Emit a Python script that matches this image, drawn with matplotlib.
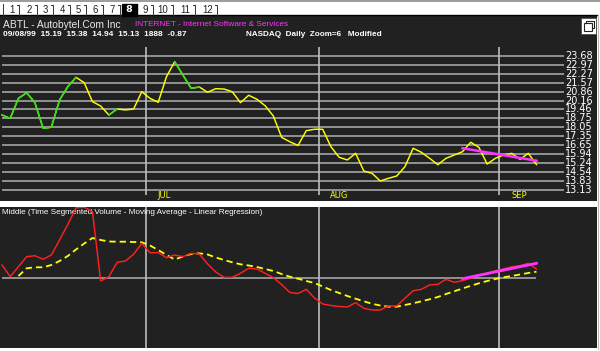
import numpy as np
import matplotlib
matplotlib.use("Agg")
import matplotlib.pyplot as plt
from matplotlib.patches import Rectangle

# ---------------- data ----------------
close = [19.02, 18.76, 20.33, 20.77, 19.99, 17.98, 18.06, 20.20, 21.25, 21.98,
         21.56, 20.07, 19.73, 19.02, 19.49, 19.42, 19.49, 20.85, 20.33, 20.02,
         22.03, 23.21, 22.16, 21.12, 21.22, 20.81, 21.09, 21.06, 20.85, 19.99,
         20.57, 20.26, 19.75, 18.94, 17.27, 16.92, 16.63, 17.79, 17.90, 17.90,
         16.53, 15.70, 15.49, 16.01, 14.62, 14.44, 13.84, 14.05, 14.23, 14.96,
         16.41, 16.09, 15.62, 15.12, 15.62, 15.88, 16.14, 16.88, 16.48, 15.17,
         15.62, 15.88, 16.01, 15.54, 16.01, 15.13]
green_segments = [(0, 9), (13, 14), (21, 24)]
price_reg_idx = [56, 65]
price_reg_val = [16.41, 15.43]

tsv = [12.7, 1.0, 11.0, 21.0, 22.0, 18.4, 22.7, 37.7, 53.2, 70.0,
       70.5, 66.0, -3.3, 1.0, 15.4, 16.7, 23.4, 34.4, 25.0, 25.0,
       20.0, 22.7, 21.0, 24.4, 23.7, 13.7, 5.7, 0.4, 0.4, 4.4,
       9.4, 8.7, 4.4, 0.0, -6.8, -14.8, -15.8, -11.6, -20.3, -26.3,
       -27.8, -28.8, -29.3, -25.0, -30.6, -32.3, -32.3, -28.3, -28.3, -20.6,
       -13.0, -11.6, -7.3, -6.6, -1.6, -4.6, -3.0, -0.6, 2.7, 4.4,
       7.0, 8.7, 11.0, 12.0, 14.4, 8.7]
tsv_ma = [np.nan, np.nan, 1.7, 9.4, 10.4, 10.4, 12.7, 16.7, 21.7, 28.2,
          34.2, 39.7, 37.7, 36.2, 36.0, 36.0, 35.7, 35.4, 32.2, 27.7,
          22.7, 18.2, 21.2, 23.7, 24.4, 23.2, 20.2, 17.7, 15.4, 13.4,
          12.2, 10.7, 8.7, 6.7, 3.7, 1.0, -1.0, -3.3, -5.3, -8.8,
          -12.3, -15.3, -18.3, -21.0, -23.6, -26.1, -27.8, -29.0, -29.0, -27.3,
          -25.6, -23.6, -21.6, -19.3, -16.3, -13.6, -10.8, -8.1, -5.6, -3.3,
          -1.3, 0.4, 1.7, 3.2, 4.7, 6.0]
tsv_reg_idx = [56, 65]
tsv_reg_val = [-1.0, 14.4]

price_ticks = [23.68, 22.97, 22.27, 21.57, 20.86, 20.16, 19.46, 18.75,
               18.05, 17.35, 16.65, 15.94, 15.24, 14.54, 13.83, 13.13]
month_bounds = [17.5, 38.5, 60.5]
month_labels = ["JUL", "AUG", "SEP"]
month_label_pos = [18.85, 39.9, 61.9]
tabs = ["1", "2", "3", "4", "5", "6", "7", "8", "9", "10", "11", "12"]
active_tab = "8"

# ---------------- layout ----------------
W, H = 600, 351
fig = plt.figure(figsize=(W / 100, H / 100), dpi=100, facecolor="white")
PX = 8.223      # pixels per bar
X0 = 2.0        # pixel x of bar 0
BG = "#212121"
GRID = "#b0b0b0"


def px_axes(x0, y0, x1, y1, **kw):
    return fig.add_axes([x0 / W, 1 - y1 / H, (x1 - x0) / W, (y1 - y0) / H], **kw)


def xlim_for(ax, x0p, x1p):
    ax.set_xlim((x0p - X0) / PX, (x1p - X0) / PX)


# upper price panel
ax = px_axes(0, 16, 597, 201)
ax.set_facecolor(BG)
xlim_for(ax, 0, 597)
p_per_px = 0.7033 / 8.953
ytop = 23.68 + (55.7 - 16) * p_per_px
ybot = 23.68 - (201 - 55.7) * p_per_px
ax.set_ylim(ybot, ytop)
for s in ax.spines.values():
    s.set_visible(False)
ax.set_xticks([])
ax.set_yticks([])

x_grid_end = (564 - X0) / PX
ax.hlines(price_ticks, 0, x_grid_end, color=GRID, lw=1.1, zorder=1)
for v in price_ticks:
    ax.text((565 - X0) / PX, v, f"{v:.2f}", color="white", fontsize=7,
            ha="left", va="center", family="DejaVu Sans")
y_v0 = 23.68 - (195 - 55.7) * p_per_px
y_v1 = 23.68 + (55.7 - 47) * p_per_px
ax.vlines(month_bounds, y_v0, y_v1, color="#bcbcbc", lw=1.2, zorder=1)
for lab, pos in zip(month_labels, month_label_pos):
    ax.text(pos, 23.68 - (195.5 - 55.7) * p_per_px, lab, color="#ffff00",
            fontsize=6, ha="left", va="center", family="DejaVu Sans")

xi = np.arange(len(close))
ax.plot(xi, close, color="#ffff00", lw=1.05, zorder=3)
for a, b in green_segments:
    ax.plot(xi[a:b + 1], close[a:b + 1], color="#22e022", lw=1.05, zorder=4)
ax.plot(price_reg_idx, price_reg_val, color="#ff33ff", lw=1.8, zorder=5)

# lower indicator panel
ax2 = px_axes(0, 206.5, 597, 348)
ax2.set_facecolor(BG)
xlim_for(ax2, 0, 597)
ax2.set_ylim(277.7 - 348, 277.7 - 206.5)
for s in ax2.spines.values():
    s.set_visible(False)
ax2.set_xticks([])
ax2.set_yticks([])
ax2.hlines(0, 0, len(tsv) - 1, color=GRID, lw=1.1, zorder=1)
for mb in month_bounds:
    ax2.axvline(mb, color="#bcbcbc", lw=1.2, zorder=1)
ax2.plot(xi, tsv_ma, color="#ffff00", lw=1.3, ls=(0, (3.5, 2.2)), zorder=3)
ax2.plot(xi, tsv, color="#ff2020", lw=1.05, zorder=4)
ax2.plot(tsv_reg_idx, tsv_reg_val, color="#ff33ff", lw=2.0, zorder=5)
ax2.text(2 / 597, 0.96, "Middle (Time Segmented Volume - Moving Average - Linear Regression)",
         transform=ax2.transAxes, color="white", fontsize=5.85, ha="left", va="center",
         family="Liberation Sans")

# overlay for window chrome and header text (pixel coordinates)
ov = fig.add_axes([0, 0, 1, 1], facecolor="none")
ov.set_xlim(0, W)
ov.set_ylim(H, 0)
ov.axis("off")
ov.plot([0, W], [0.6, 0.6], color="#8a8a8a", lw=1.2)
ov.plot([0, 597], [15.3, 15.3], color="#000000", lw=1.0)
ov.plot([597.5, 597.5], [15, 349], color="#bdbdbd", lw=0.8)

tab_x = [11.7, 29, 45.3, 62, 78.3, 95, 112, 129, 145.7, 163, 185, 207.3]
ov.plot([2.5, 2.5], [3.5, 15], color="#333333", lw=0.7)
for lab, tx in zip(tabs, tab_x):
    if lab == active_tab:
        ov.add_patch(Rectangle((122, 4), 14.5, 11.5, facecolor="black", edgecolor="black"))
        ov.text(tx, 10, lab, color="white", fontsize=6.8, fontweight="bold",
                ha="center", va="center", family="DejaVu Sans")
    else:
        ov.text(tx, 10, lab, color="#202020", fontsize=6.9, ha="center", va="center",
                family="Liberation Sans")
        sx = tx + (7.5 if len(lab) == 1 else 10)
        ov.plot([sx - 2, sx, sx], [4.5, 4.5, 14.5], color="#333333", lw=0.7)

ov.text(3, 24.5, "ABTL - Autobytel.Com Inc", color="#e8e8e8", fontsize=7.4,
        ha="left", va="center", family="Liberation Sans")
ov.text(135, 24.5, "INTERNET - Internet Software & Services", color="#ff33ff",
        fontsize=5.95, ha="left", va="center", family="Liberation Sans")
ov.text(3, 35, "09/08/99  15.19  15.38  14.94  15.13  1888  -0.87", color="white",
        fontsize=6.0, fontweight="bold", ha="left", va="center", family="Liberation Sans")
ov.text(246, 35, "NASDAQ  Daily  Zoom=6   Modified", color="white",
        fontsize=5.9, fontweight="bold", ha="left", va="center", family="Liberation Sans")

# restore button
ov.add_patch(Rectangle((581, 17.5), 15, 16, facecolor="white", edgecolor="#555555", lw=0.7))
ov.add_patch(Rectangle((583.5, 23), 8, 7.5, facecolor="none", edgecolor="#222222", lw=0.8))
ov.plot([585.5, 585.5, 593.5, 593.5, 591.5], [23, 20.5, 20.5, 28, 28], color="#222222", lw=0.8)

fig.savefig("out.png", dpi=100, facecolor="white")
